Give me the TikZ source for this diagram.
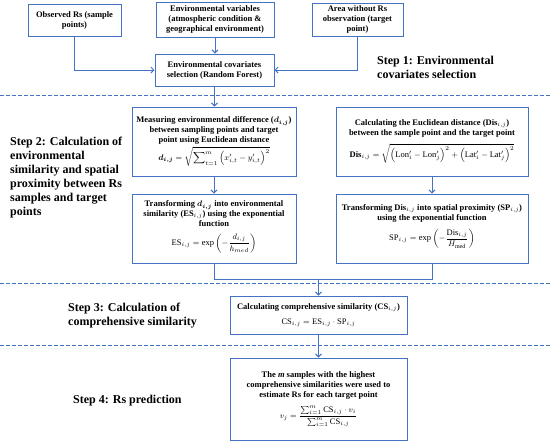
\documentclass[tikz,border=0pt]{standalone}
\usepackage{amsmath}
\usepackage{bm}
\usepackage{fontspec}
\setmainfont{Liberation Serif}
\usetikzlibrary{arrows.meta}
\definecolor{bblue}{HTML}{4472C4}
\begin{document}
\begin{tikzpicture}[x=1pt,y=-1pt,
  box/.style={draw=bblue, line width=1pt, align=center, inner sep=0pt, font=\fontsize{8.5}{10}\selectfont\bfseries},
  steptext/.style={anchor=west, align=left, inner sep=0pt, font=\fontsize{12}{14}\selectfont\bfseries},
  arr/.style={draw=bblue, line width=0.9pt, -{Straight Barb[length=3pt,width=6pt]}},
  conn/.style={draw=bblue, line width=0.9pt},
  dline/.style={draw=bblue, line width=0.9pt, dash pattern=on 4pt off 2pt}]
\useasboundingbox (0,0) rectangle (550,445);

% dashed separators
\coordinate (d1a) at (0,95);   \coordinate (d1b) at (550,95);
\coordinate (d2a) at (0,283);  \coordinate (d2b) at (550,283);
\coordinate (d3a) at (0,345);  \coordinate (d3b) at (550,345);
\draw[dline] (d1a) -- (d1b);
\draw[dline] (d2a) -- (d2b);
\draw[dline] (d3a) -- (d3b);

% step 1 boxes
\node[box, minimum width=93pt, minimum height=32pt] (obs) at (74.5,20) {Observed Rs (sample\\points)};
\node[box, minimum width=118pt, minimum height=35pt] (env) at (215,19.5) {Environmental variables\\(atmospheric condition \&\\geographical environment)};
\node[box, minimum width=91pt, minimum height=33pt] (area) at (357.5,19.5) {Area without Rs\\observation (target\\point)};
\node[box, minimum width=119pt, minimum height=32pt] (cov) at (214.5,70) {Environmental covariates\\selection (Random Forest)};

% step 2 boxes
\node[box, minimum width=164pt, minimum height=69pt] (meas) at (214,141.5)
 {Measuring environmental difference ($\boldsymbol{d_{i,j}}$)\\between sampling points and target\\point using Euclidean distance\\[1pt]
  $\displaystyle \boldsymbol{d_{i,j}} = \sqrt{\sum\nolimits_{t=1}^{m}\left(x'_{i,t}-y'_{i,t}\right)^{2}}$};
\node[box, minimum width=164pt, minimum height=69pt] (es) at (214,228.5)
 {Transforming $\boldsymbol{d_{i,j}}$ into environmental\\similarity (ES$_{i,j}$) using the exponential\\function\\[6pt]
  $\displaystyle \mathrm{ES}_{i,j} = \exp\left(-\frac{d_{i,j}}{h_{med}}\right)$\\[1pt]};
\node[box, minimum width=192pt, minimum height=69pt] (dis) at (432,141.5)
 {Calculating the Euclidean distance (Dis$_{i,j}$)\\between the sample point and the target point\\[6pt]
  $\displaystyle \mathbf{Dis}_{i,j} = \sqrt{\left(\mathrm{Lon}_i'-\mathrm{Lon}_j'\right)^{2}+\left(\mathrm{Lat}_i'-\mathrm{Lat}_j'\right)^{2}}$};
\node[box, minimum width=192pt, minimum height=69pt] (sp) at (432,228.5)
 {Transforming Dis$_{i,j}$ into spatial proximity (SP$_{i,j}$)\\using the exponential function\\[6pt]
  $\displaystyle \mathrm{SP}_{i,j} = \exp\left(-\frac{\mathrm{Dis}_{i,j}}{H_{\mathrm{med}}}\right)$\\[2pt]};

% step 3 and 4 boxes
\node[box, minimum width=177pt, minimum height=38pt] (cs) at (318.5,315)
 {Calculating comprehensive similarity (CS$_{i,j}$)\\[5pt]
  $\mathrm{CS}_{i,j} = \mathrm{ES}_{i,j}\cdot\mathrm{SP}_{i,j}$};
\node[box, minimum width=177pt, minimum height=82pt] (fin) at (318.5,399)
 {The \textit{m} samples with the highest\\comprehensive similarities were used to\\estimate Rs for each target point\\[6pt]
  $\displaystyle v_j = \frac{\sum_{i=1}^{m}\mathrm{CS}_{i,j}\cdot v_i}{\sum_{i=1}^{m}\mathrm{CS}_{i,j}}$};

% step labels
\node[steptext, font=\fontsize{12}{13.5}\selectfont\bfseries] (s1) at (377,67.5) {Step 1: Environmental\\covariates selection};
\node[steptext] (s2) at (10,178) {Step 2: Calculation of\\environmental\\similarity and spatial\\proximity between Rs\\samples and target\\points};
\node[steptext] (s3) at (68,315.5) {Step 3: Calculation of\\comprehensive similarity};
\node[steptext] (s4) at (73,401) {Step 4: Rs prediction};

% connectors
\draw[arr] (obs.south) |- (cov.west);
\draw[arr] (env.south) -- (env.south |- cov.north);
\draw[arr] (area.south) |- (cov.east);
\draw[arr] (cov.south) -- (cov.south |- meas.north);
\draw[arr] (meas.south) -- (es.north);
\draw[arr] (dis.south) -- (sp.north);
\coordinate (j) at (318.5,279);
\draw[conn] (es.south) |- (j);
\draw[conn] (sp.south) |- (j);
\draw[arr] (j) -- (cs.north);
\draw[arr] (cs.south) -- (fin.north);
\end{tikzpicture}
\end{document}
